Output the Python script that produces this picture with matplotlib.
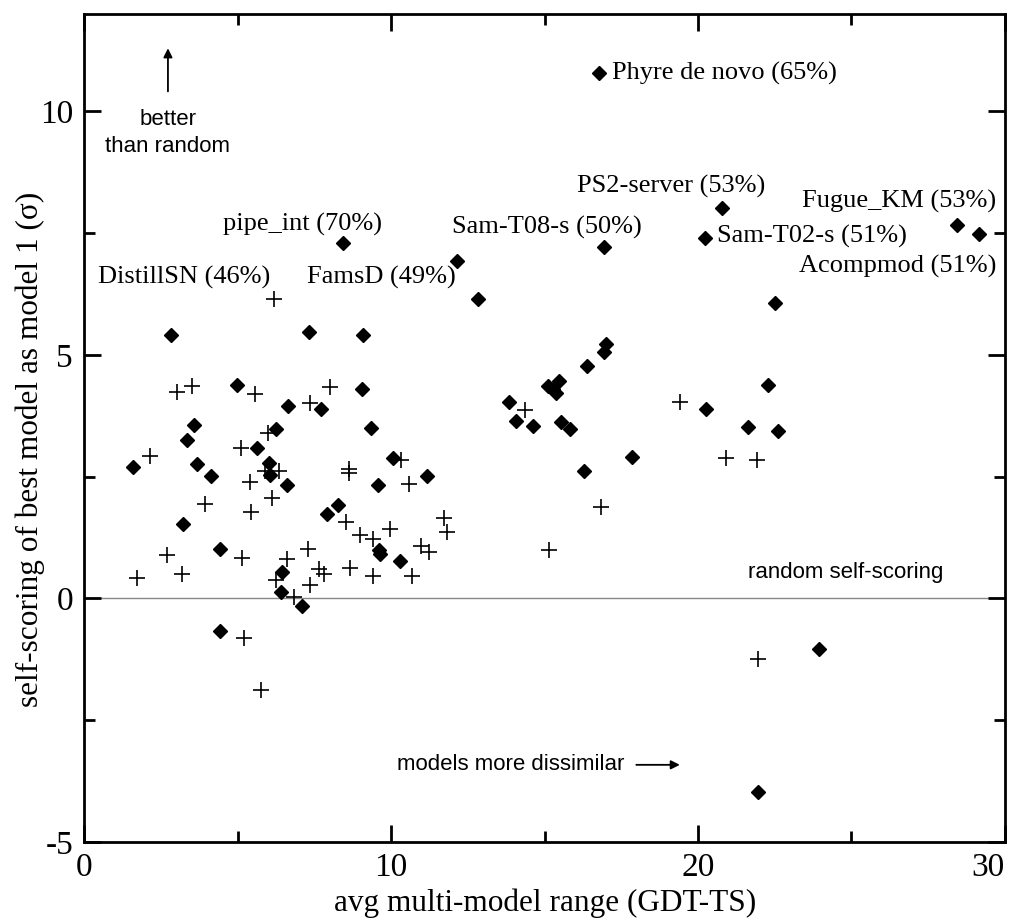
import numpy as np
import matplotlib
matplotlib.use("Agg")
import matplotlib.pyplot as plt
from matplotlib.ticker import MultipleLocator

plt.rcParams["axes.unicode_minus"] = False

# diamonds: servers
dia_x = [2.84, 7.31, 9.10, 4.98, 9.05, 6.64, 7.73, 3.57, 6.24, 9.33, 3.36, 5.64,
         1.59, 3.67, 4.12, 6.02, 6.04, 6.61, 9.57, 8.27, 7.92, 3.22, 4.41, 6.44,
         6.42, 7.11, 4.44, 12.83, 10.06, 11.17, 9.62, 9.64, 10.30, 13.84, 14.08,
         14.64, 15.11, 15.27, 15.47, 15.38, 15.54, 15.84, 16.37, 16.99, 16.95,
         16.30, 17.86, 22.27, 20.27, 21.62, 22.60, 23.94, 21.96, 16.79, 8.45,
         12.16, 20.79, 16.95, 20.24, 28.43, 29.15, 22.51]
dia_y = [5.40, 5.47, 5.40, 4.37, 4.29, 3.94, 3.88, 3.55, 3.48, 3.50, 3.25, 3.09,
         2.70, 2.75, 2.51, 2.77, 2.53, 2.32, 2.32, 1.91, 1.72, 1.52, 1.02, 0.54,
         0.13, -0.16, -0.68, 6.14, 2.89, 2.51, 0.99, 0.90, 0.77, 4.03, 3.64,
         3.53, 4.35, 4.29, 4.46, 4.22, 3.61, 3.47, 4.77, 5.22, 5.06,
         2.61, 2.91, 4.37, 3.88, 3.52, 3.44, -1.05, -3.97, 10.78, 7.29,
         6.93, 8.02, 7.22, 7.40, 7.66, 7.47, 6.07]

# crosses: human groups
plus_x = [6.18, 3.02, 3.51, 5.58, 8.00, 7.35, 5.99, 5.12, 2.13, 5.88, 6.35, 5.39,
          6.13, 3.93, 5.45, 8.63, 8.63, 8.54, 9.00, 9.41, 2.70, 5.14, 1.72, 3.20,
          6.61, 7.29, 6.26, 6.83, 7.35, 7.65, 7.83, 8.67, 9.41, 5.20, 5.75,
          10.33, 10.60, 11.71, 11.82, 9.97, 10.98, 11.23, 10.69, 14.38, 16.85,
          15.16, 19.40, 20.92, 21.92, 21.97]
plus_y = [6.15, 4.24, 4.35, 4.20, 4.33, 4.00, 3.39, 3.08, 2.92, 2.61, 2.61, 2.39,
          2.05, 1.93, 1.77, 2.65, 2.57, 1.57, 1.29, 1.22, 0.88, 0.82, 0.41, 0.49,
          0.80, 1.02, 0.37, 0.03, 0.27, 0.61, 0.49, 0.63, 0.46, -0.81, -1.88,
          2.84, 2.34, 1.64, 1.36, 1.43, 1.07, 0.95, 0.46, 3.86, 1.87,
          0.99, 4.02, 2.87, 2.84, -1.24]

labels = ["Phyre de novo (65%)", "PS2-server (53%)", "Fugue_KM (53%)",
          "Sam-T08-s (50%)", "Sam-T02-s (51%)", "Acompmod (51%)",
          "pipe_int (70%)", "DistillSN (46%)", "FamsD (49%)"]
label_x = [17.21, 16.07, 29.72, 12.0, 20.63, 29.72, 4.51, 0.44, 7.25]
label_y = [10.78, 8.46, 8.15, 7.62, 7.43, 6.82, 7.68, 6.59, 6.59]
label_ha = ["left", "left", "right", "left", "left", "right", "left", "left", "left"]

xticks = [0, 10, 20, 30]
yticks = [-5, 0, 5, 10]

serif = "Liberation Serif"
sans = "Liberation Sans"

fig = plt.figure(figsize=(10.14, 9.23), dpi=100)
ax = fig.add_axes([0.083, 0.088, 0.908, 0.897])

ax.axhline(0, color="#888888", lw=1.0, zorder=1)
ax.plot(plus_x, plus_y, ls="none", marker="+", ms=11, mew=1.2, color="black", zorder=3)
ax.plot(dia_x, dia_y, ls="none", marker="D", ms=7, color="black", zorder=3)

for t, x, y, ha in zip(labels, label_x, label_y, label_ha):
    ax.text(x, y, t, ha=ha, va="center", fontsize=19, family=serif)

ax.annotate("", xy=(2.73, 11.35), xytext=(2.73, 10.35),
            arrowprops=dict(arrowstyle="-|>", color="black", lw=1.3, mutation_scale=13))
ax.text(2.73, 9.83, "better", ha="center", va="center", fontsize=16, family=sans)
ax.text(2.73, 9.28, "than random", ha="center", va="center", fontsize=16, family=sans)
ax.text(21.64, 0.53, "random self-scoring", ha="left", va="center", fontsize=16, family=sans)
ax.text(10.18, -3.42, "models more dissimilar", ha="left", va="center", fontsize=16, family=sans)
ax.annotate("", xy=(19.5, -3.42), xytext=(17.9, -3.42),
            arrowprops=dict(arrowstyle="-|>", color="black", lw=1.3, mutation_scale=13))

ax.set_xlim(0, 30)
ax.set_ylim(-5, 12)
ax.set_xticks(xticks, [str(v) for v in xticks])
ax.set_yticks(yticks, [str(v) for v in yticks])
ax.xaxis.set_minor_locator(MultipleLocator(5))
ax.yaxis.set_minor_locator(MultipleLocator(2.5))
ax.tick_params(which="both", direction="in", top=True, right=True, width=2, color="black")
ax.tick_params(which="major", length=12, labelsize=24, pad=8)
ax.tick_params(which="minor", length=8)
for lab in ax.get_xticklabels() + ax.get_yticklabels():
    lab.set_family(serif)
ax.get_xticklabels()[3].set_horizontalalignment("right")
for s in ax.spines.values():
    s.set_linewidth(2)

fig.text(545 / 1014, 1 - 903 / 923, "avg multi-model range (GDT-TS)",
         ha="center", va="center", fontsize=22.5, family=serif)
fig.text(30 / 1014, 1 - 449 / 923, "self-scoring of best model as model 1 (\u03c3)",
         ha="center", va="center", rotation=90, fontsize=22.5, family=serif)

fig.savefig("out.png", dpi=100)
